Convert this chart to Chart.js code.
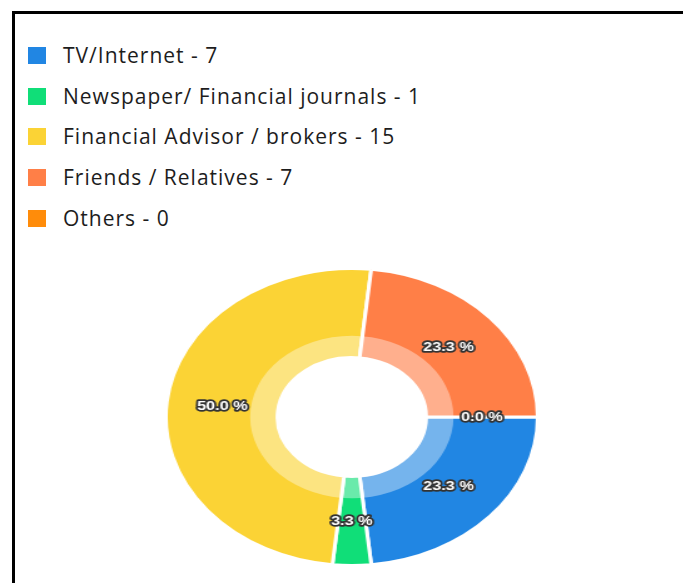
<!DOCTYPE html>
<html>
<head>
<meta charset="utf-8">
<script src="https://cdn.jsdelivr.net/npm/chart.js@4/dist/chart.umd.min.js"></script>
<style>
  html, body { margin: 0; padding: 0; background: #fff; }
  #page { position: relative; width: 683px; height: 583px; overflow: hidden; }
  #frame { position: absolute; left: 12px; top: 11px; right: -10px; bottom: -10px;
           border-left: 3px solid #000; border-top: 3px solid #000; }
  #legend { position: absolute; left: 28px; top: 38px; margin: 0; padding: 0; list-style: none;
            font-family: "Open Sans", Lato, sans-serif; font-size: 21px; font-weight: 500;
            letter-spacing: 1px; color: #1d1d1d; }
  #legend li { position: relative; height: 40.7px; line-height: 34px; padding-left: 35px; white-space: nowrap; }
  #legend li span { position: absolute; left: 0; top: 9px; width: 18px; height: 17px; }
  #donutWrap { position: absolute; left: 164px; top: 267px; width: 300px; height: 300px;
               transform: scaleX(1.252); transform-origin: 0 0; }
</style>
</head>
<body>
<div id="page">
  <div id="frame"></div>
  <ul id="legend"></ul>
  <div id="donutWrap"><canvas id="sourceChart" width="300" height="300"></canvas></div>
</div>
<script>
let categories = ['TV/Internet', 'Newspaper/ Financial journals', 'Financial Advisor / brokers', 'Friends / Relatives', 'Others'];
let counts = [7, 1, 15, 7, 0];
let colours = ['#2186e3', '#10de78', '#fbd335', '#ff7f47', '#ff8c0a'];

let total = counts.reduce(function (a, b) { return a + b; }, 0);

// legend rows are plain html, built from the same arrays as the chart
let legend = document.getElementById('legend');
categories.forEach(function (name, i) {
  let li = document.createElement('li');
  let box = document.createElement('span');
  box.style.background = colours[i];
  li.appendChild(box);
  li.appendChild(document.createTextNode(name + ' - ' + counts[i]));
  legend.appendChild(li);
});

// pale band just outside the hole
let innerBand = {
  id: 'innerBand',
  afterDatasetsDraw: function (chart) {
    let arcs = chart.getDatasetMeta(0).data;
    if (!arcs.length) return;
    let a = arcs[0];
    let ctx = chart.ctx;
    let outer = a.innerRadius + (a.outerRadius - a.innerRadius) * 0.245;
    ctx.save();
    ctx.fillStyle = 'rgba(255,255,255,0.38)';
    ctx.beginPath();
    ctx.arc(a.x, a.y, outer, 0, Math.PI * 2);
    ctx.arc(a.x, a.y, a.innerRadius, 0, Math.PI * 2, true);
    ctx.fill();
    ctx.restore();
  }
};

// percentage text on each slice, white with a dark outline
let sliceLabels = {
  id: 'sliceLabels',
  afterDraw: function (chart) {
    let ctx = chart.ctx;
    let arcs = chart.getDatasetMeta(0).data;
    ctx.save();
    ctx.font = 'bold 13px Arial, "Liberation Sans", sans-serif';
    ctx.textAlign = 'center';
    ctx.textBaseline = 'middle';
    ctx.lineJoin = 'round';
    arcs.forEach(function (arc, i) {
      let p = arc.getProps(['x', 'y', 'startAngle', 'endAngle', 'outerRadius']);
      let mid = (p.startAngle + p.endAngle) / 2;
      let r = p.outerRadius * 0.70;
      let x = p.x + Math.cos(mid) * r;
      let y = p.y + Math.sin(mid) * r;
      let txt = (counts[i] / total * 100).toFixed(1) + ' %';
      ctx.lineWidth = 3.5;
      ctx.strokeStyle = '#333';
      ctx.strokeText(txt, x, y);
      ctx.fillStyle = '#fff';
      ctx.fillText(txt, x, y);
    });
    ctx.restore();
  }
};

let sourceChart = new Chart(document.getElementById('sourceChart').getContext('2d'), {
  type: 'doughnut',
  data: {
    labels: categories,
    datasets: [{
      data: counts,
      backgroundColor: colours,
      borderColor: '#fff',
      borderWidth: 3
    }]
  },
  options: {
    responsive: false,
    animation: false,
    devicePixelRatio: 1,
    rotation: 90,
    cutout: '40%',
    layout: { padding: 0 },
    plugins: {
      legend: { display: false },
      tooltip: { enabled: false }
    }
  },
  plugins: [innerBand, sliceLabels]
});
</script>
</body>
</html>
